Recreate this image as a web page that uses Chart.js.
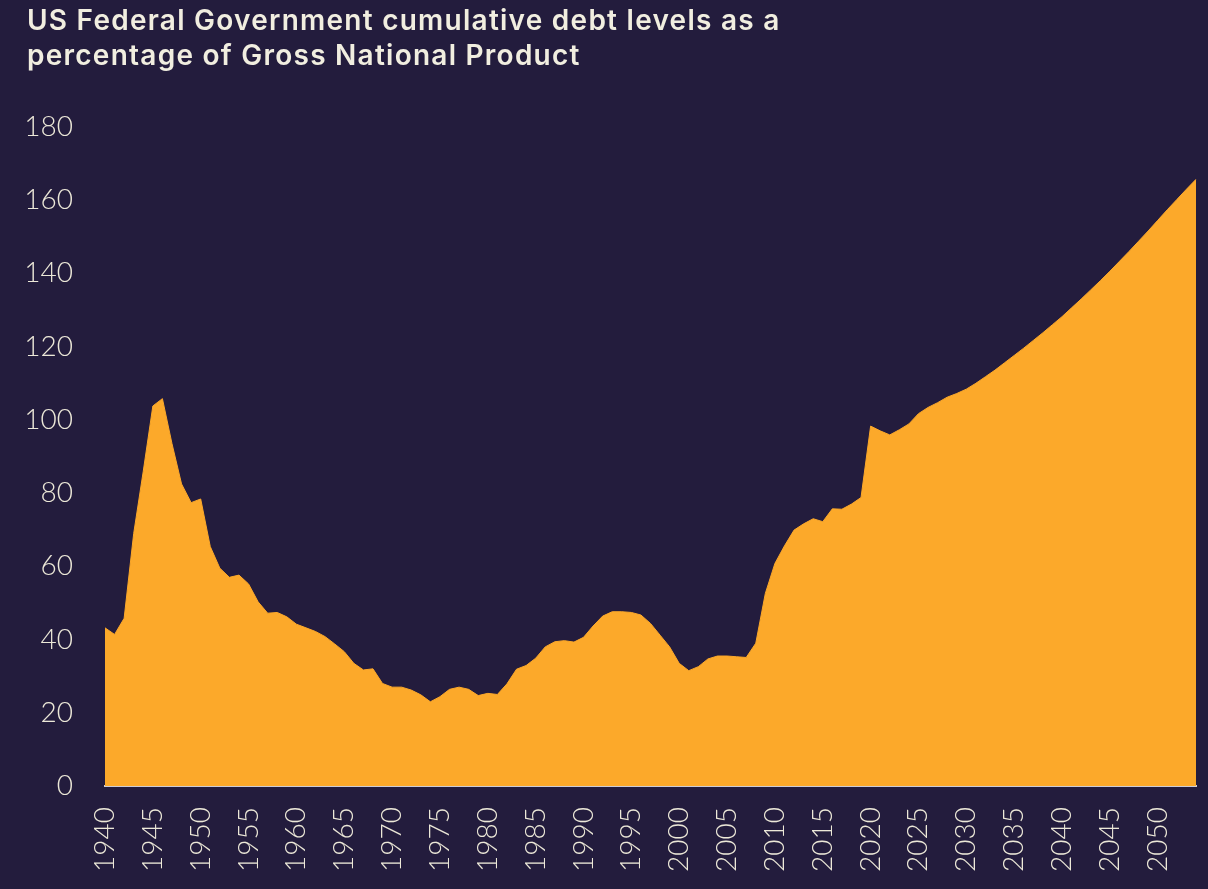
<!DOCTYPE html>
<html>
<head>
<meta charset="utf-8">
<script src="https://cdn.jsdelivr.net/npm/chart.js@4"></script>
<style>
html,body{margin:0;padding:0;background:#231c3d;}
#wrap{position:relative;width:1208px;height:889px;overflow:hidden;}
#title{position:absolute;left:27px;top:3px;color:#f1eee0;font-family:Inter,"Noto Sans",sans-serif;font-weight:600;font-size:28px;line-height:35px;letter-spacing:1.25px;white-space:nowrap;z-index:2;}
#c{position:absolute;left:0;top:0;}
</style>
</head>
<body>
<div id="wrap">
<div id="title">US Federal Government cumulative debt levels as a<br>percentage of Gross National Product</div>
<canvas id="c" width="1208" height="889"></canvas>
</div>
<script>
const titleLines = ["US Federal Government cumulative debt levels as a", "percentage of Gross National Product"];

const years = [];
for (let y = 1940; y <= 2054; y++) years.push(String(y));

const debtPctGNP = [
  43.2, 41.4, 45.8, 69.0, 86.0, 103.8, 105.8, 93.5, 82.5, 77.4,
  78.4, 65.4, 59.5, 57.0, 57.6, 55.2, 50.3, 47.2, 47.4, 46.2,
  44.2, 43.2, 42.2, 40.8, 38.8, 36.7, 33.5, 31.7, 32.0, 28.0,
  27.0, 27.0, 26.2, 24.9, 23.0, 24.4, 26.4, 27.0, 26.4, 24.7,
  25.3, 25.0, 27.9, 31.9, 32.9, 34.9, 38.0, 39.4, 39.7, 39.3,
  40.6, 43.7, 46.4, 47.6, 47.6, 47.4, 46.7, 44.4, 41.2, 38.0,
  33.5, 31.5, 32.6, 34.7, 35.5, 35.5, 35.3, 35.1, 39.0, 52.6,
  60.8, 65.6, 69.9, 71.6, 73.0, 72.2, 75.7, 75.6, 77.0, 78.8,
  98.3, 97.0, 95.9, 97.3, 98.9, 101.7, 103.4, 104.7, 106.2, 107.2,
  108.4, 110.0, 111.8, 113.6, 115.6, 117.6, 119.6, 121.7, 123.8, 126.0,
  128.2, 130.6, 133.0, 135.5, 138.0, 140.6, 143.3, 146.0, 148.8, 151.6,
  154.5, 157.4, 160.2, 163.0, 165.7
];

const xTickLabels = ["1940","1945","1950","1955","1960","1965","1970","1975","1980","1985","1990","1995","2000","2005","2010","2015","2020","2025","2030","2035","2040","2045","2050"];
const yMin = 0, yMax = 180, yStep = 20;

const cream = '#ece8d8';
const tickFont = {family: 'Lato, "Noto Sans", sans-serif', size: 28, weight: 300};

new Chart(document.getElementById('c'), {
  type: 'line',
  data: {
    labels: years,
    datasets: [{
      data: debtPctGNP,
      fill: 'origin',
      backgroundColor: '#fca92a',
      borderColor: '#fca92a',
      borderWidth: 1,
      pointRadius: 0,
      tension: 0
    }]
  },
  options: {
    responsive: false,
    animation: false,
    devicePixelRatio: 1,
    layout: {padding: {top: 127, left: 0, right: 12, bottom: 0}},
    plugins: {legend: {display: false}, tooltip: {enabled: false}, title: {display: false}},
    scales: {
      x: {
        type: 'category',
        offset: false,
        grid: {display: false, drawTicks: false},
        border: {display: true, color: '#cfcdd6', width: 2},
        ticks: {
          autoSkip: false,
          maxRotation: 90,
          minRotation: 90,
          padding: 21,
          color: cream,
          font: tickFont,
          callback: function(v) {
            const l = this.getLabelForValue(v);
            return xTickLabels.includes(l) ? l : '';
          }
        },
        afterFit: function(s) { s.height = 889 - 786; s.paddingLeft = 0; s.paddingRight = 0; }
      },
      y: {
        min: yMin, max: yMax,
        grid: {display: false, drawTicks: false},
        border: {display: false},
        ticks: {stepSize: yStep, padding: 32, color: cream, font: tickFont},
        afterFit: function(s) { s.width = 105; s.paddingTop = 0; s.paddingBottom = 0; }
      }
    }
  }
});
</script>
</body>
</html>
